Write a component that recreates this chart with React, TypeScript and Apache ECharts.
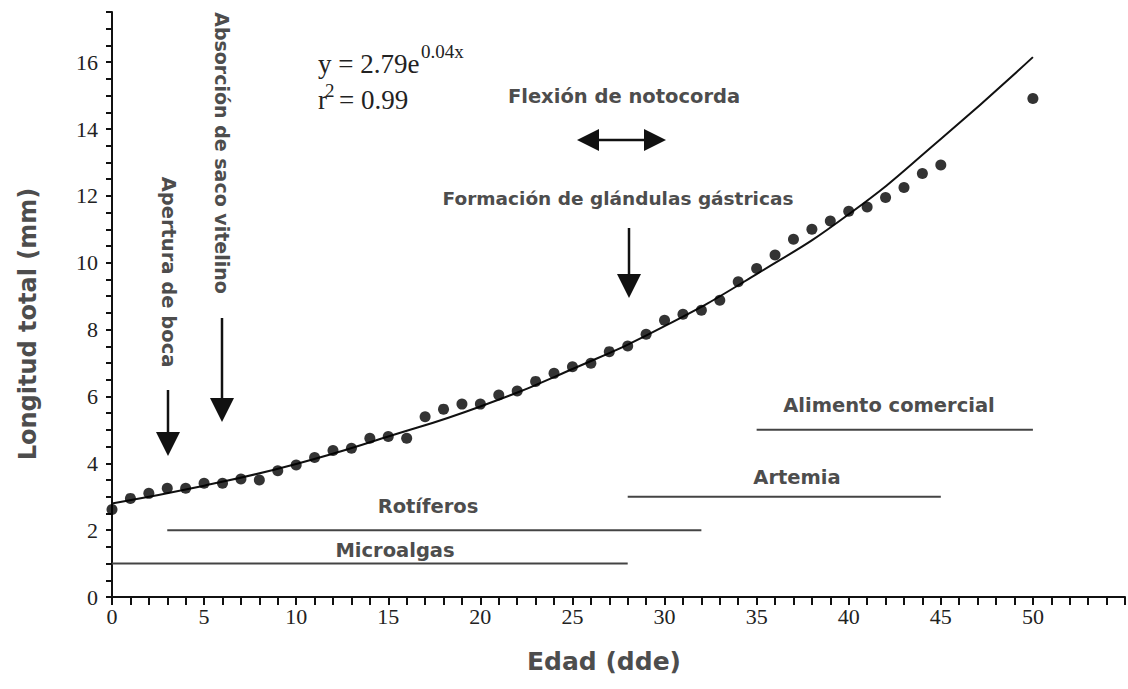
import React, { useEffect, useRef } from "react";
import * as echarts from "echarts";

// Observed total length (mm) by age (days after hatching)
const days = [0,1,2,3,4,5,6,7,8,9,10,11,12,13,14,15,16,17,18,19,20,21,22,23,24,25,26,27,28,29,30,31,32,33,34,35,36,37,38,39,40,41,42,43,44,45,50];
const lengths = [2.62,2.95,3.1,3.25,3.25,3.4,3.4,3.53,3.5,3.78,3.95,4.17,4.38,4.45,4.75,4.8,4.75,5.39,5.62,5.77,5.77,6.04,6.16,6.45,6.69,6.89,6.99,7.34,7.51,7.86,8.28,8.46,8.58,8.88,9.43,9.83,10.23,10.7,11.0,11.25,11.54,11.67,11.95,12.25,12.67,12.92,14.91];

// Fitted trend
const trendDays = [0,5,10,15,20,25,30,35,40,45,50];
const trendValues = [2.8,3.33,3.98,4.8,5.7,6.82,8.1,9.66,11.45,13.7,16.15];

// Feeding periods
const feedNames = ["Microalgas", "Rotíferos", "Artemia", "Alimento comercial"];
const feedStart = [0, 3, 28, 35];
const feedEnd = [28, 32, 45, 50];
const feedLevel = [1, 2, 3, 5];

const xLabelStep = 5;
const xLabelMax = 50;
const yLabelStep = 2;

const BOLD = "DejaVu Sans";
const GRAY = "#4d4d4d";
const SERIF = "Liberation Serif";

function downArrow(x: number, y1: number, tip: number) {
  return [
    { type: "line", shape: { x1: x, y1, x2: x, y2: tip - 20 }, style: { stroke: "#111", lineWidth: 2.5 } },
    { type: "polygon", shape: { points: [[x - 12, tip - 24], [x + 12, tip - 24], [x, tip]] }, style: { fill: "#111" } },
  ];
}

function boldText(text: string, x: number, y: number, size: number, rotation = 0) {
  return {
    type: "text",
    x,
    y,
    rotation,
    style: {
      text,
      fill: GRAY,
      fontFamily: BOLD,
      fontWeight: "bold",
      fontSize: size,
      align: "center",
      verticalAlign: "middle",
    },
  };
}

function serifText(text: string, x: number, y: number, size: number) {
  return {
    type: "text",
    x,
    y,
    style: { text, fill: "#222", fontFamily: SERIF, fontSize: size, verticalAlign: "bottom" },
  };
}

export default function App() {
  const ref = useRef<HTMLDivElement>(null);
  useEffect(() => {
    if (!ref.current) return;
    const chart = echarts.init(ref.current, null, { renderer: "svg" });
    const feedSeries = feedNames.map((name, i) => ({
      name,
      type: "line",
      data: [[feedStart[i], feedLevel[i]], [feedEnd[i], feedLevel[i]]],
      symbol: "none",
      lineStyle: { color: "#444", width: 2 },
      silent: true,
      z: 1,
    }));
    const graphic: any[] = [
      ...downArrow(168, 390, 456),
      ...downArrow(222, 318, 422),
      ...downArrow(629, 228, 298),
      { type: "line", shape: { x1: 595, y1: 140, x2: 648, y2: 140 }, style: { stroke: "#111", lineWidth: 2.5 } },
      { type: "polygon", shape: { points: [[577, 140], [599, 129], [599, 151]] }, style: { fill: "#111" } },
      { type: "polygon", shape: { points: [[666, 140], [644, 129], [644, 151]] }, style: { fill: "#111" } },
      boldText("Apertura de boca", 168, 272, 19.5, -Math.PI / 2),
      boldText("Absorción de saco vitelino", 222, 153, 19, -Math.PI / 2),
      boldText("Flexión de notocorda", 624, 96, 19.5),
      boldText("Formación de glándulas gástricas", 618, 198, 18.5),
      boldText(feedNames[0], 395, 550, 19.5),
      boldText(feedNames[1], 428, 506, 19.5),
      boldText(feedNames[2], 797, 477, 19.5),
      boldText(feedNames[3], 889, 405, 19.5),
      boldText("Longitud total (mm)", 28, 324, 24, Math.PI / 2),
      boldText("Edad (dde)", 604, 661, 25),
      serifText("y = 2.79e", 318, 77, 27),
      serifText("0.04x", 421, 61, 19),
      serifText("r", 318, 113, 27),
      serifText("2", 325, 100, 19),
      serifText("= 0.99", 339, 113, 27),
    ];
    chart.setOption({
      animation: false,
      backgroundColor: "#fff",
      grid: { left: 112, right: 0, top: 12, bottom: 92, containLabel: false },
      xAxis: {
        type: "value",
        min: 0,
        max: 55,
        interval: 1,
        axisLine: { show: true, lineStyle: { color: "#111", width: 2 } },
        axisTick: { show: true, length: 8, lineStyle: { color: "#111", width: 2 } },
        splitLine: { show: false },
        axisLabel: {
          margin: 8,
          color: "#222",
          fontFamily: SERIF,
          fontSize: 22,
          formatter: (v: number) => (v % xLabelStep === 0 && v <= xLabelMax ? String(v) : ""),
        },
      },
      yAxis: {
        type: "value",
        min: 0,
        max: 17.5,
        interval: 0.5,
        axisLine: { show: true, lineStyle: { color: "#111", width: 2 } },
        axisTick: { show: true, length: 6, lineStyle: { color: "#111", width: 2 } },
        splitLine: { show: false },
        axisLabel: {
          margin: 14,
          color: "#222",
          fontFamily: SERIF,
          fontSize: 22,
          formatter: (v: number) => (v % yLabelStep === 0 ? String(v) : ""),
        },
      },
      series: [
        ...feedSeries,
        {
          name: "Ajuste",
          type: "line",
          data: trendDays.map((d, i) => [d, trendValues[i]]),
          smooth: 0.5,
          symbol: "none",
          lineStyle: { color: "#111", width: 2 },
          z: 2,
        },
        {
          name: "Longitud",
          type: "scatter",
          data: days.map((d, i) => [d, lengths[i]]),
          symbolSize: 11,
          itemStyle: { color: "#000" },
          z: 3,
        },
      ],
      graphic,
    });
    return () => chart.dispose();
  }, []);
  return <div ref={ref} style={{ position: "fixed", left: 0, top: 0, width: 1128, height: 689 }} />;
}
